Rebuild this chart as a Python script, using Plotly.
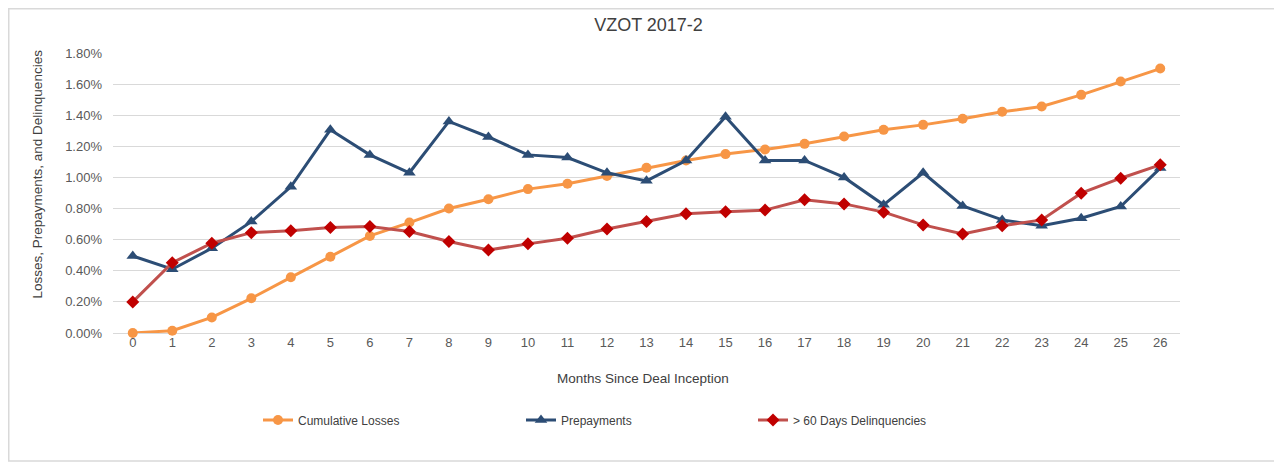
import plotly.graph_objects as go

months = list(range(27))
cumulative_losses = [0.00, 0.015, 0.10, 0.223, 0.358, 0.49, 0.624, 0.71, 0.80, 0.86,
                     0.925, 0.96, 1.01, 1.062, 1.109, 1.15, 1.18, 1.216, 1.263, 1.306,
                     1.338, 1.377, 1.422, 1.456, 1.531, 1.617, 1.70]
prepayments = [0.495, 0.41, 0.545, 0.716, 0.94, 1.306, 1.145, 1.03, 1.36, 1.26,
               1.145, 1.128, 1.03, 0.978, 1.109, 1.39, 1.109, 1.109, 1.00, 0.824,
               1.03, 0.817, 0.727, 0.689, 0.738, 0.813, 1.06]
delinquencies = [0.20, 0.452, 0.577, 0.645, 0.658, 0.678, 0.684, 0.652, 0.588, 0.534,
                 0.573, 0.609, 0.669, 0.716, 0.766, 0.78, 0.79, 0.856, 0.83, 0.777,
                 0.695, 0.637, 0.69, 0.727, 0.899, 0.995, 1.081]
y_ticks = [0.0, 0.2, 0.4, 0.6, 0.8, 1.0, 1.2, 1.4, 1.6, 1.8]

# The page places the figure 8px in from the window edge, so the figure is
# sized and positioned in window coordinates minus that offset.
OFF = 8
W, H = 1282 - OFF, 462 - OFF
PLOT_L, PLOT_R, PLOT_T, PLOT_B = 113, 1180, 53, 333   # window pixels
L, R, T, B = PLOT_L - OFF, W - (PLOT_R - OFF), PLOT_T - OFF, H - (PLOT_B - OFF)
PW, PH = W - L - R, H - T - B

def px_x(p):
    return (p - OFF - L) / PW

def px_y(p):
    return (H - B - (p - OFF)) / PH

FONT = "Liberation Sans, Arial, sans-serif"

fig = go.Figure()
fig.add_trace(go.Scatter(
    x=months, y=cumulative_losses, name="Cumulative Losses", mode="lines+markers",
    line=dict(color="#F79646", width=3), marker=dict(symbol="circle", size=10, color="#F79646"),
    cliponaxis=False, legend="legend"))
fig.add_trace(go.Scatter(
    x=months, y=prepayments, name="Prepayments", mode="lines+markers",
    line=dict(color="#2C4D75", width=3), marker=dict(symbol="triangle-up", size=11, color="#2C4D75"),
    cliponaxis=False, legend="legend2"))
fig.add_trace(go.Scatter(
    x=months, y=delinquencies, name="> 60 Days Delinquencies", mode="lines+markers",
    line=dict(color="#C0504D", width=3), marker=dict(symbol="diamond", size=10, color="#C00000"),
    cliponaxis=False, legend="legend3"))

leg_common = dict(orientation="h", yanchor="middle", y=px_y(420), xanchor="left",
                  font=dict(family=FONT, size=12, color="#404040"),
                  bgcolor="rgba(0,0,0,0)", itemclick=False)

fig.update_layout(
    width=W, height=H,
    margin=dict(l=L, r=R, t=T, b=B, autoexpand=False),
    paper_bgcolor="white", plot_bgcolor="white",
    showlegend=True,
    font=dict(family=FONT, size=13, color="#595959"),
    title=dict(text="VZOT 2017-2", x=(648.5 - OFF) / W, xanchor="center",
               y=1 - (25 - OFF) / H, yanchor="middle",
               font=dict(family=FONT, size=18, color="#404040")),
    xaxis=dict(range=[-0.5, 26.5], tickmode="array", tickvals=months, ticktext=[str(m) for m in months],
               showgrid=False, zeroline=False, showline=False, ticks="",
               tickfont=dict(family=FONT, size=13, color="#595959")),
    yaxis=dict(range=[0, 1.8], tickmode="array", tickvals=y_ticks,
               ticktext=[f"{v:.2f}%" for v in y_ticks],
               showgrid=True, gridcolor="#D9D9D9", gridwidth=1,
               zeroline=True, zerolinecolor="#D9D9D9", zerolinewidth=1,
               showline=False, ticks="", ticklabelstandoff=10,
               tickfont=dict(family=FONT, size=13, color="#595959")),
    legend=dict(x=px_x(265 - 7), **leg_common),
    legend2=dict(x=px_x(528 - 7), **leg_common),
    legend3=dict(x=px_x(760 - 7), **leg_common),
    annotations=[
        dict(text="Losses, Prepayments, and Delinquencies", textangle=-90,
             xref="paper", yref="paper", x=px_x(37), y=px_y(173.5),
             xanchor="center", yanchor="middle", showarrow=False,
             font=dict(family=FONT, size=13.5, color="#404040")),
        dict(text="Months Since Deal Inception",
             xref="paper", yref="paper", x=px_x(643), y=px_y(378),
             xanchor="center", yanchor="middle", showarrow=False,
             font=dict(family=FONT, size=13.5, color="#404040")),
    ],
    shapes=[dict(type="rect", xref="paper", yref="paper",
                 x0=px_x(OFF + 0.75), x1=px_x(1300), y0=px_y(461), y1=px_y(OFF + 0.75),
                 line=dict(color="#D9D9D9", width=1.5), layer="below")],
)

fig.write_html("out.html")
